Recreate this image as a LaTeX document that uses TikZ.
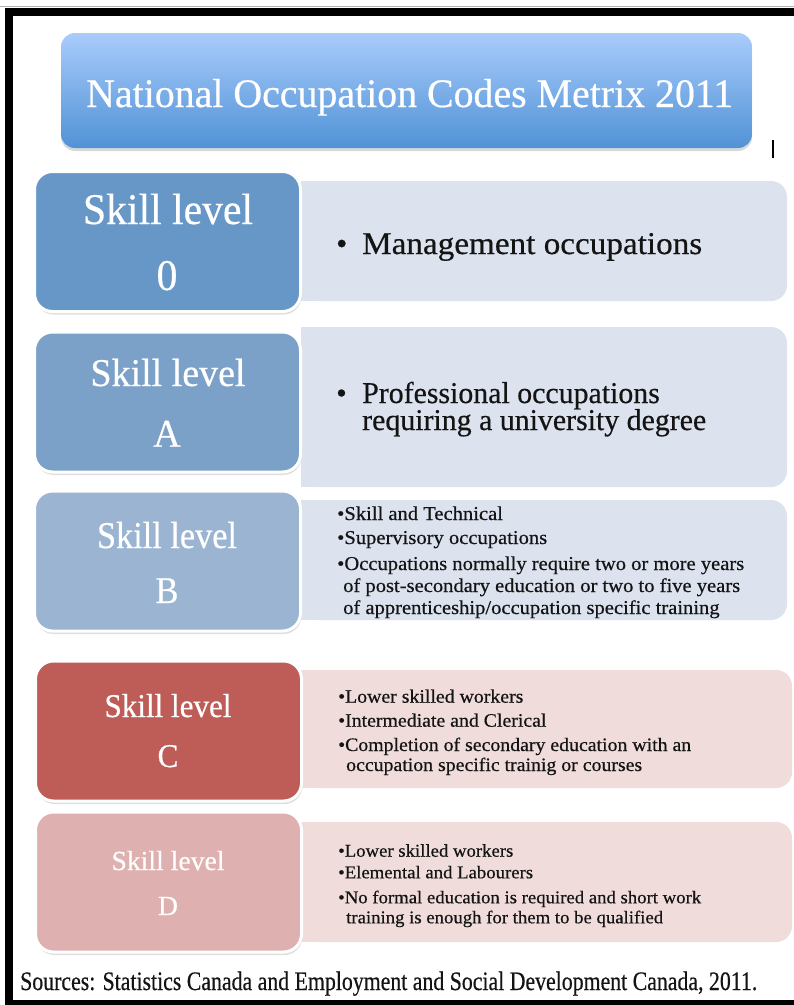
\documentclass[tikz,border=0pt]{standalone}
\usepackage{fontspec}
\setmainfont{Liberation Serif}[FakeBold=0.5]
\usepackage{graphicx}
\usetikzlibrary{shadows}
\definecolor{ttop}{HTML}{A9CCFB}
\definecolor{tbot}{HTML}{5092D6}
\definecolor{czero}{HTML}{6797C7}
\definecolor{cA}{HTML}{7CA1C8}
\definecolor{cB}{HTML}{9AB4D2}
\definecolor{cC}{HTML}{BE5C57}
\definecolor{cD}{HTML}{DEB1B0}
\definecolor{pblue}{HTML}{DCE2EE}
\definecolor{pred}{HTML}{F0DCDB}
\definecolor{ink}{HTML}{141414}
\newlength\reflen
\newcommand\mkfactor[4]{\settowidth\reflen{\normalfont\fontsize{#2pt}{#2pt}\selectfont #4}\pgfmathsetmacro#1{#3/\reflen}}
\newcommand\sq[3]{\scalebox{#1}[1]{\fontsize{#2pt}{#2pt}\selectfont #3}}
\tikzset{
  lbox/.style={draw=white, line width=3pt, rounded corners=18pt, minimum width=266pt, minimum height=140pt, inner sep=0pt,
    drop shadow={opacity=0.25, shadow xshift=1pt, shadow yshift=-3pt}},
  wtxt/.style={inner sep=0pt, text=white},
  btxt/.style={inner sep=0pt, text=ink, anchor=base west},
}
\begin{document}
\mkfactor\fT{40.5}{647}{National Occupation Codes Metrix 2011}%
\mkfactor\fZ{43.8}{170}{Skill level}%
\mkfactor\fA{39.3}{155}{Skill level}%
\mkfactor\fB{37.8}{140}{Skill level}%
\mkfactor\fC{33.2}{127}{Skill level}%
\mkfactor\fD{27.6}{113}{Skill level}%
\mkfactor\fM{31.7}{340}{Management occupations}%
\mkfactor\fP{30.2}{344}{requiring a university degree}%
\mkfactor\fBt{19.6}{407}{•Occupations normally require two or more years}%
\mkfactor\fCt{19}{353}{•Completion of secondary education with an}%
\mkfactor\fDt{18}{363}{•No formal education is required and short work}%
\mkfactor\fS{26.7}{737}{Sources: Statistics Canada and Employment and Social Development Canada, 2011.}%
\begin{tikzpicture}[x=1pt,y=-1pt]
\useasboundingbox (0,0) rectangle (794,1005);
\fill[white] (0,0) rectangle (794,1005);
% frame
\draw[black!30, line width=0.8pt] (0,6.5) -- (794,6.5);
\fill[black] (5,8) rectangle (794,16);
\fill[black] (5,8) rectangle (13,1005);
\fill[black] (5,1000) rectangle (794,1005);
% title
\node[rounded corners=14pt, minimum width=691pt, minimum height=115pt, inner sep=0pt,
  top color=ttop, bottom color=tbot,
  drop shadow={opacity=0.3, shadow xshift=0pt, shadow yshift=-3pt}] (title) at (406.5,90.5) {};
\node[wtxt, anchor=base west] (ttl) at (86,107) {\sq{\fT}{40.5}{National Occupation Codes Metrix 2011}};
\coordinate (bar1) at (773,140);
\coordinate (bar2) at (773,158);
\draw[line width=1.5pt] (bar1) -- (bar2);
% panels
\fill[pblue, rounded corners=16pt] (301,181) rectangle (787,301);
\fill[pblue] (301,181) rectangle (340,301);
\fill[pblue, rounded corners=16pt] (301,327) rectangle (787,487);
\fill[pblue] (301,327) rectangle (340,487);
\fill[pblue, rounded corners=16pt] (301,500) rectangle (787,620);
\fill[pblue] (301,500) rectangle (340,620);
\fill[pred, rounded corners=16pt] (301,670) rectangle (792,788);
\fill[pred] (301,670) rectangle (340,788);
\fill[pred, rounded corners=16pt] (301,822) rectangle (792,942);
\fill[pred] (301,822) rectangle (340,942);
% left boxes
\node[lbox, fill=czero] (box0) at (167.5,241.5) {};
\node[lbox, fill=cA] (boxA) at (167.5,402) {};
\node[lbox, fill=cB] (boxB) at (167.5,561) {};
\node[lbox, fill=cC] (boxC) at (168.5,731) {};
\node[lbox, fill=cD] (boxD) at (168.5,882) {};
% labels
\node[wtxt, anchor=base] (l0a) at (168,224) {\sq{\fZ}{43.8}{Skill level}};
\node[wtxt, anchor=base] (l0b) at (167,290) {\sq{\fZ}{43.8}{0}};
\node[wtxt, anchor=base] (lAa) at (168,386) {\sq{\fA}{39.3}{Skill level}};
\node[wtxt, anchor=base] (lAb) at (167,446.7) {\sq{\fA}{39.3}{A}};
\node[wtxt, anchor=base] (lBa) at (167,548) {\sq{\fB}{37.8}{Skill level}};
\node[wtxt, anchor=base] (lBb) at (167,603) {\sq{\fB}{37.8}{B}};
\node[wtxt, anchor=base] (lCa) at (168,717) {\sq{\fC}{33.2}{Skill level}};
\node[wtxt, anchor=base] (lCb) at (168,767) {\sq{\fC}{33.2}{C}};
\node[wtxt, anchor=base] (lDa) at (168,870) {\sq{\fD}{27.6}{Skill level}};
\node[wtxt, anchor=base] (lDb) at (168,915) {\sq{\fD}{27.6}{D}};
% panel 0
\node[btxt] (m0b) at (336,254) {\fontsize{31.7pt}{31.7pt}\selectfont •};
\node[btxt] (m0) at (362,254) {\sq{\fM}{31.7}{Management occupations}};
% panel A
\node[btxt] (pAb) at (336,403) {\fontsize{30.2pt}{30.2pt}\selectfont •};
\node[btxt] (pA1) at (362,403) {\sq{\fP}{30.2}{Professional occupations}};
\node[btxt] (pA2) at (362,430) {\sq{\fP}{30.2}{requiring a university degree}};
% panel B
\node[btxt] (pB1) at (337,520) {\sq{\fBt}{19.6}{•Skill and Technical}};
\node[btxt] (pB2) at (337,544) {\sq{\fBt}{19.6}{•Supervisory occupations}};
\node[btxt] (pB3) at (337,570) {\sq{\fBt}{19.6}{•Occupations normally require two or more years}};
\node[btxt] (pB4) at (343,592) {\sq{\fBt}{19.6}{of post-secondary education or two to five years}};
\node[btxt] (pB5) at (343,614) {\sq{\fBt}{19.6}{of apprenticeship/occupation specific training}};
% panel C
\node[btxt] (pC1) at (338,702.7) {\sq{\fCt}{19}{•Lower skilled workers}};
\node[btxt] (pC2) at (338,726.7) {\sq{\fCt}{19}{•Intermediate and Clerical}};
\node[btxt] (pC3) at (338,751) {\sq{\fCt}{19}{•Completion of secondary education with an}};
\node[btxt] (pC4) at (346,771) {\sq{\fCt}{19}{occupation specific trainig or courses}};
% panel D
\node[btxt] (pD1) at (338,856.7) {\sq{\fDt}{18}{•Lower skilled workers}};
\node[btxt] (pD2) at (338,878.3) {\sq{\fDt}{18}{•Elemental and Labourers}};
\node[btxt] (pD3) at (338,903.3) {\sq{\fDt}{18}{•No formal education is required and short work}};
\node[btxt] (pD4) at (346,923.3) {\sq{\fDt}{18}{training is enough for them to be qualified}};
% sources
\node[btxt] (src) at (20,990) {\sq{\fS}{26.7}{Sources: Statistics Canada and Employment and Social Development Canada, 2011.}};
\end{tikzpicture}
\end{document}
